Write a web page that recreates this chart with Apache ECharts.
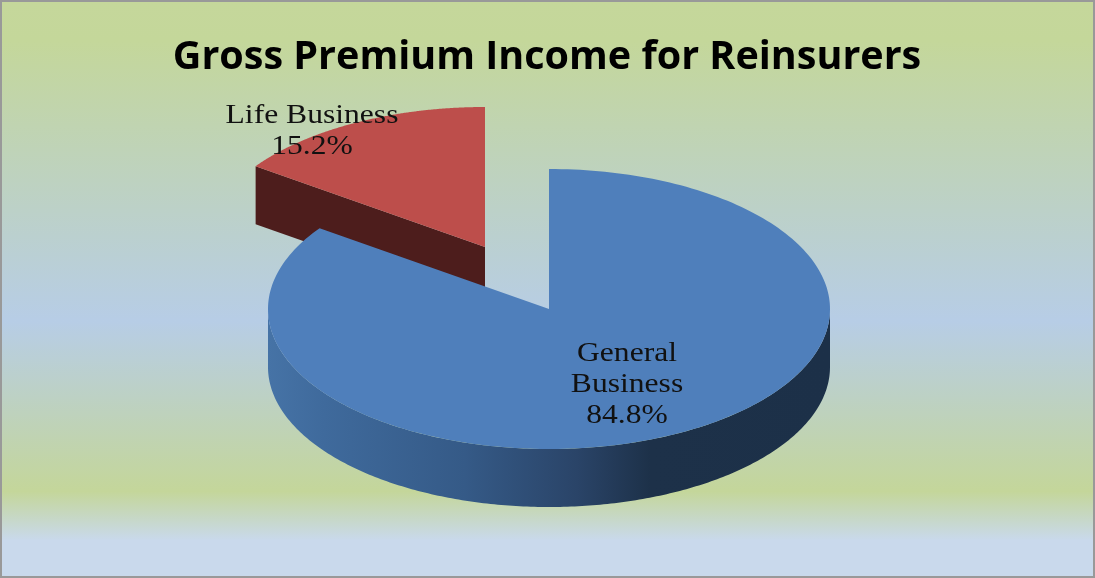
<!DOCTYPE html>
<html><head><meta charset="utf-8">
<style>html,body{margin:0;padding:0;background:#fff}#main{width:1095px;height:578px}</style>
<script src="https://cdn.jsdelivr.net/npm/echarts@6/dist/echarts.min.js"></script>
</head><body><div id="main"></div>
<script>
const chartTitle = 'Gross Premium Income for Reinsurers';
const categories = ['Life Business', 'General Business'];
const categoryLines = [['Life Business'], ['General', 'Business']];
const shares = [15.2, 84.8];

const total = shares[0] + shares[1];
const angleOf = v => v / total * Math.PI * 2;
const generalSweep = angleOf(shares[1]);
const layouts = [
  { cx: 485, cy: 247, start: generalSweep, end: Math.PI * 2, top: '#bd4e4b', labelX: 312, labelY: 131.5 },
  { cx: 549, cy: 309, start: 0, end: generalSweep, top: '#4f7fbb', labelX: 627, labelY: 385 }
];
const RX = 281, RY = 140, DEPTH = 58;
const pt = (l, a, dy) => [l.cx + RX * Math.sin(a), l.cy - RY * Math.cos(a) + (dy || 0)];
function arc(l, a0, a1, dy) {
  const out = [], n = 240;
  for (let i = 0; i <= n; i++) out.push(pt(l, a0 + (a1 - a0) * i / n, dy));
  return out;
}
const wallFill = {
  type: 'linear', x: 268, y: 0, x2: 830, y2: 0, global: true,
  colorStops: [
    { offset: 0, color: '#4673a6' }, { offset: 0.1, color: '#3f6a9c' },
    { offset: 0.35, color: '#355a87' }, { offset: 0.55, color: '#2a4468' },
    { offset: 0.68, color: '#1d3149' }, { offset: 1, color: '#1c3048' }
  ]
};
function renderSlice(params, api) {
  const i = params.dataIndex, l = layouts[i], children = [];
  if (i === 0) {
    const a = pt(l, l.start), b = [l.cx, l.cy];
    children.push({ type: 'polygon', shape: { points: [a, b, [b[0], b[1] + DEPTH], [a[0], a[1] + DEPTH]] },
      style: { fill: '#4d1d1c' } });
  } else {
    const pts = arc(l, Math.PI / 2, Math.PI * 1.5, 0).concat(arc(l, Math.PI * 1.5, Math.PI / 2, DEPTH));
    children.push({ type: 'polygon', shape: { points: pts }, style: { fill: wallFill } });
  }
  children.push({ type: 'polygon', shape: { points: [[l.cx, l.cy]].concat(arc(l, l.start, l.end)) },
    style: { fill: l.top } });
  children.push({ type: 'text', x: l.labelX, y: l.labelY, scaleX: 1.17, originX: 0, originY: 0, z2: 10,
    style: { text: categoryLines[i].concat([api.value(0).toFixed(1) + '%']).join('\n'),
      font: '27px "Liberation Serif"', lineHeight: 31, fill: '#111',
      align: 'center', verticalAlign: 'middle' } });
  return { type: 'group', children };
}
const chart = echarts.init(document.getElementById('main'), null, { renderer: 'canvas' });
chart.setOption({
  animation: false,
  backgroundColor: { type: 'linear', x: 0, y: 0, x2: 0, y2: 1, colorStops: [
    { offset: 0, color: '#c5d79b' }, { offset: 0.07, color: '#c4d79a' },
    { offset: 0.555, color: '#b7cde6' }, { offset: 0.85, color: '#c4d69a' },
    { offset: 0.935, color: '#c9d9ec' }, { offset: 1, color: '#c9d9ec' } ] },
  title: { text: chartTitle, left: 542, textAlign: 'center', top: 33,
    textStyle: { fontFamily: 'Open Sans', fontWeight: 'bold', fontSize: 39.5, color: '#000' } },
  graphic: [{ type: 'rect', z: 100, silent: true, shape: { x: 1, y: 1, width: 1093, height: 576 },
    style: { fill: 'none', stroke: '#999', lineWidth: 2 } }],
  series: [{
    type: 'custom', coordinateSystem: 'none', renderItem: renderSlice, silent: true,
    data: categories.map((name, i) => ({ name, value: [shares[i]] }))
  }]
});
</script></body></html>
